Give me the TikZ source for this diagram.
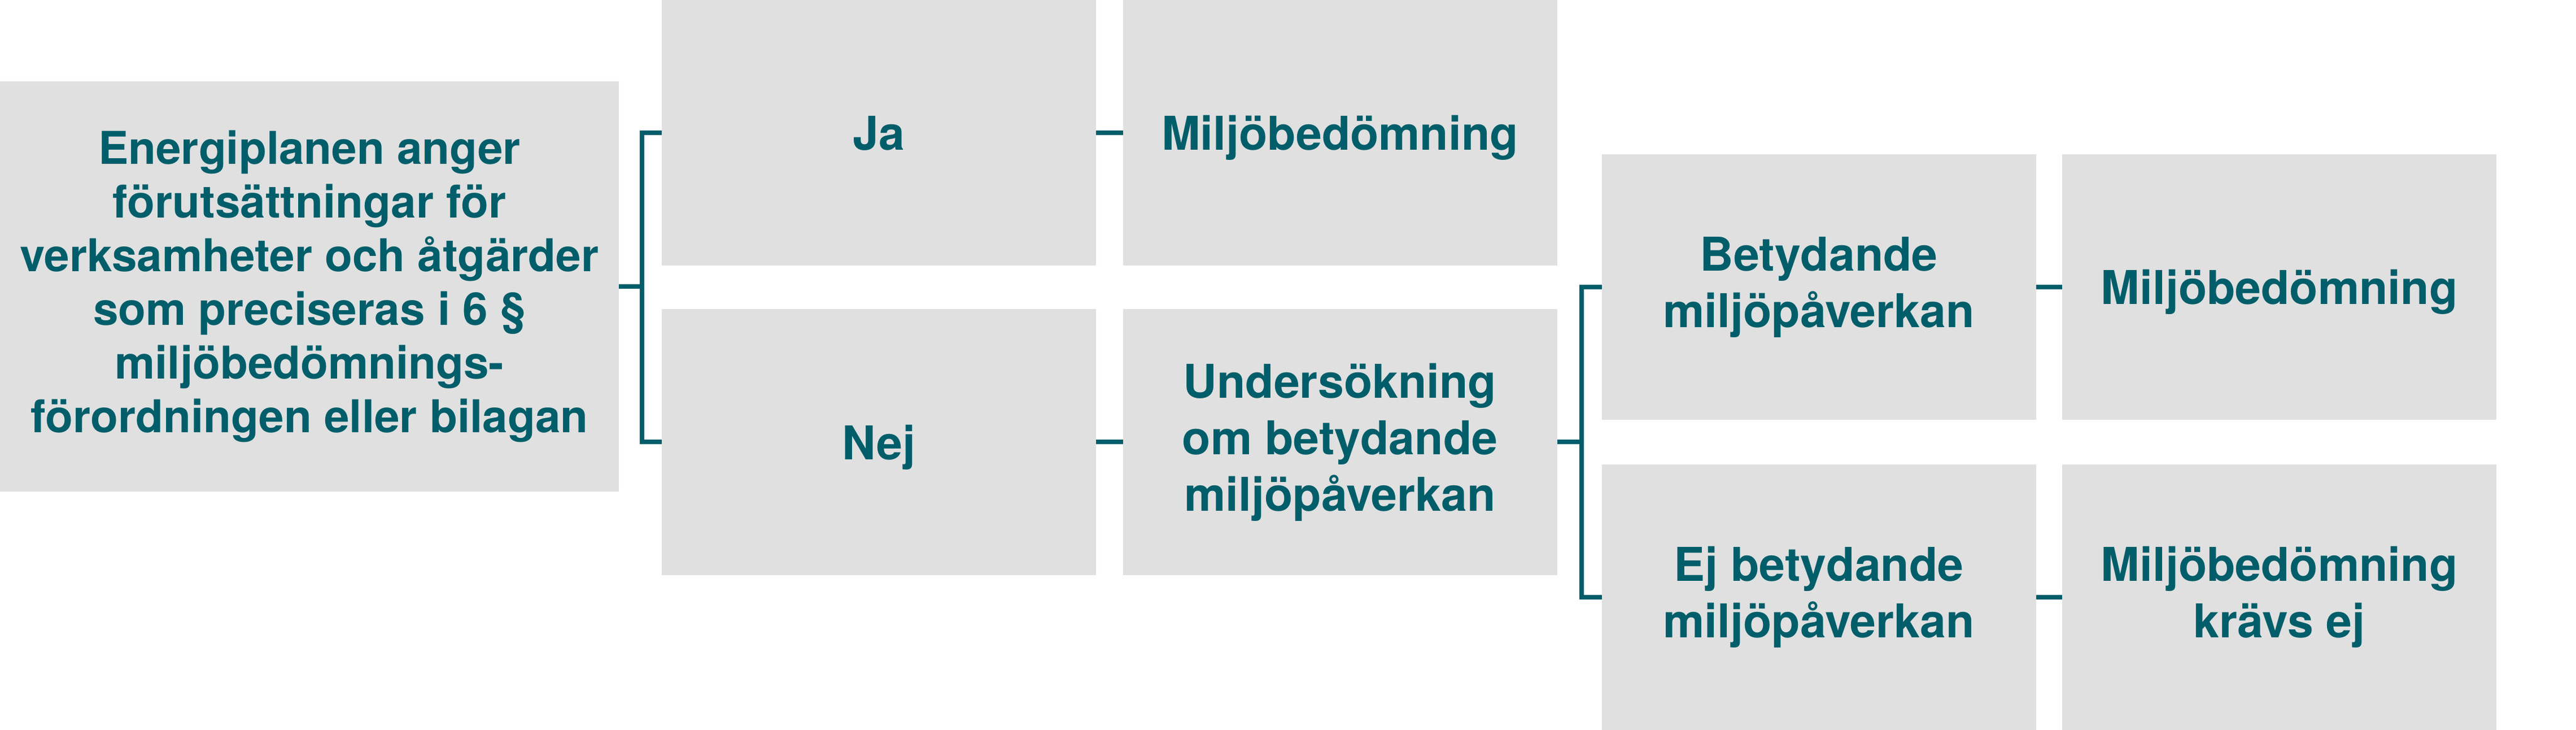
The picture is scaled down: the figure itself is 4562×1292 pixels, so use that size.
\documentclass[tikz,border=0pt]{standalone}
\usepackage{fontspec}
\setmainfont{TeX Gyre Heros}
\definecolor{teal1}{HTML}{005E6A}
\definecolor{boxgray}{HTML}{E0E0E0}
\begin{document}
\begin{tikzpicture}[x=0.25pt,y=-0.25pt,
  box/.style={fill=boxgray,draw=none,inner sep=0pt,outer sep=0pt,
    minimum width=192.25pt,minimum height=117.5pt,align=center,
    text=teal1,font=\fontsize{20.6}{25}\selectfont\bfseries},
  one/.style={text depth=0pt},
  conn/.style={draw=teal1,line width=2pt}]
\useasboundingbox (0,0) rectangle (4562,1292);
\node[box,minimum width=274pt,minimum height=181.5pt,
  font=\fontsize{20}{23.75}\selectfont\bfseries] (L) at (548,507)
  {Energiplanen anger\\förutsättningar för\\verksamheter och åtgärder\\som preciseras i 6 §\\miljöbedömnings-\\förordningen eller bilagan};
\node[box,one] (ja) at (1556.5,235) {Ja};
\node[box,one] (nej) at (1556.5,782.5) {Nej};
\node[box,one] (m1) at (2373,235) {Miljöbedömning};
\node[box] (u) at (2373,782.5) {Undersökning\\om betydande\\miljöpåverkan};
\node[box] (b) at (3221,508) {Betydande\\miljöpåverkan};
\node[box] (e) at (3221,1057) {Ej betydande\\miljöpåverkan};
\node[box,one] (m2) at (4036.5,508) {Miljöbedömning};
\node[box] (m3) at (4036.5,1057) {Miljöbedömning\\krävs ej};
\coordinate (c1) at (1137,507);
\coordinate (c2) at (2801,782.5);
\draw[conn] (L.east) -- (c1);
\draw[conn] (ja.west) -| (c1) |- (nej.west);
\draw[conn] (ja.east) -- (m1.west);
\draw[conn] (nej.east) -- (u.west);
\draw[conn] (u.east) -- (c2);
\draw[conn] (b.west) -| (c2) |- (e.west);
\draw[conn] (b.east) -- (m2.west);
\draw[conn] (e.east) -- (m3.west);
\end{tikzpicture}
\end{document}
